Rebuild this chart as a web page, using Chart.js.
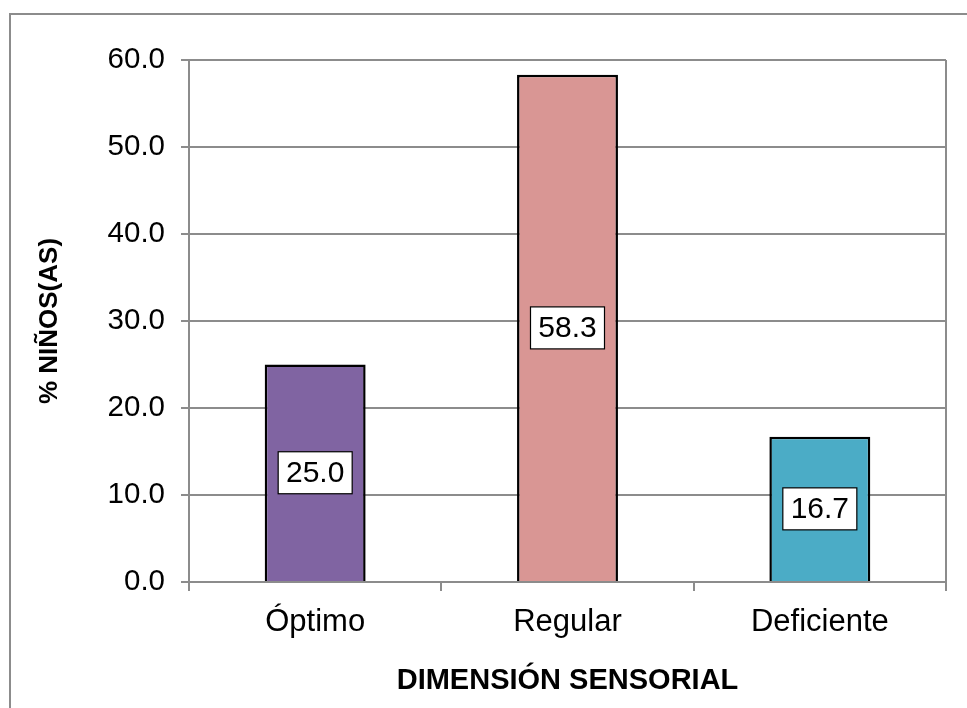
<!DOCTYPE html>
<html>
<head>
<meta charset="utf-8">
<script src="https://cdn.jsdelivr.net/npm/chart.js@4/dist/chart.umd.min.js"></script>
<style>
  html, body { margin: 0; padding: 0; background: #fff; }
  #wrap { position: relative; width: 967px; height: 708px; overflow: hidden; }
  #frame { position: absolute; left: 9px; top: 13px; width: 1000px; height: 800px;
           border: 2px solid #8c8c8c; box-sizing: border-box; }
  canvas { position: absolute; left: 0; top: 0; }
</style>
</head>
<body>
<div id="wrap">
  <div id="frame"></div>
  <canvas id="chart" width="967" height="708"></canvas>
</div>
<script>
'use strict';

// ── Data ─────────────────────────────────────────────
const categories = ['Óptimo', 'Regular', 'Deficiente'];
const values     = [25.0, 58.3, 16.7];
const barColors  = ['#8064A2', '#D99694', '#4BACC6'];
const yTitle     = '% NIÑOS(AS)';
const xTitle     = 'DIMENSIÓN SENSORIAL';

const FONT = "'Liberation Sans', Arial, sans-serif";
const GRID = '#8c8c8c';

// right border of the plot area
const plotBorder = {
  id: 'plotBorder',
  afterDraw(chart) {
    const { ctx, chartArea: a } = chart;
    ctx.save();
    ctx.strokeStyle = GRID;
    ctx.lineWidth = 2;
    ctx.beginPath();
    ctx.moveTo(a.right, a.top);
    ctx.lineTo(a.right, a.bottom);
    ctx.stroke();
    ctx.restore();
  }
};

// boxed value labels in the middle of each bar
const boxLabels = {
  id: 'boxLabels',
  afterDatasetsDraw(chart) {
    const { ctx } = chart;
    const meta = chart.getDatasetMeta(0);
    ctx.save();
    ctx.font = '30px ' + FONT;
    ctx.textAlign = 'center';
    ctx.textBaseline = 'middle';
    meta.data.forEach((bar, i) => {
      const txt = values[i].toFixed(1);
      const cx = bar.x;
      const cy = (bar.y + bar.base) / 2;
      const w = 74, h = 42;
      ctx.fillStyle = '#fff';
      ctx.fillRect(cx - w / 2, cy - h / 2, w, h);
      ctx.strokeStyle = '#000';
      ctx.lineWidth = 1.2;
      ctx.strokeRect(cx - w / 2, cy - h / 2, w, h);
      ctx.fillStyle = '#000';
      ctx.fillText(txt, cx, cy + 1);
    });
    ctx.restore();
  }
};

new Chart(document.getElementById('chart').getContext('2d'), {
  type: 'bar',
  data: {
    labels: categories,
    datasets: [{
      data: values,
      backgroundColor: barColors,
      borderColor: '#000',
      borderWidth: 2.5,
      barPercentage: 0.4,
      categoryPercentage: 1.0
    }]
  },
  options: {
    responsive: false,
    animation: false,
    devicePixelRatio: 1,
    layout: { padding: { top: 60, right: 21, left: 0, bottom: 0 } },
    plugins: { legend: { display: false }, tooltip: { enabled: false } },
    scales: {
      x: {
        afterFit(s) { s.height = 126; },
        grid: { drawOnChartArea: false, drawTicks: true, tickLength: 9, color: GRID, lineWidth: 2 },
        border: { display: true, color: GRID, width: 2 },
        ticks: { color: '#000', font: { family: FONT, size: 31 }, padding: 13 },
        title: {
          display: true, text: xTitle, color: '#000',
          font: { family: FONT, size: 29, weight: 'bold' },
          padding: { top: 10, bottom: 10 }
        }
      },
      y: {
        min: 0, max: 60,
        afterFit(s) { s.width = 189; },
        grid: { color: GRID, lineWidth: 2, drawTicks: true, tickLength: 8 },
        border: { display: true, color: GRID, width: 2 },
        ticks: {
          stepSize: 10, color: '#000', padding: 16,
          font: { family: FONT, size: 29.5 },
          callback: v => v.toFixed(1)
        },
        title: {
          display: true, text: yTitle, color: '#000',
          font: { family: FONT, size: 26, weight: 'bold' },
          padding: { top: 34, bottom: 34 }
        }
      }
    }
  },
  plugins: [plotBorder, boxLabels]
});
</script>
</body>
</html>
